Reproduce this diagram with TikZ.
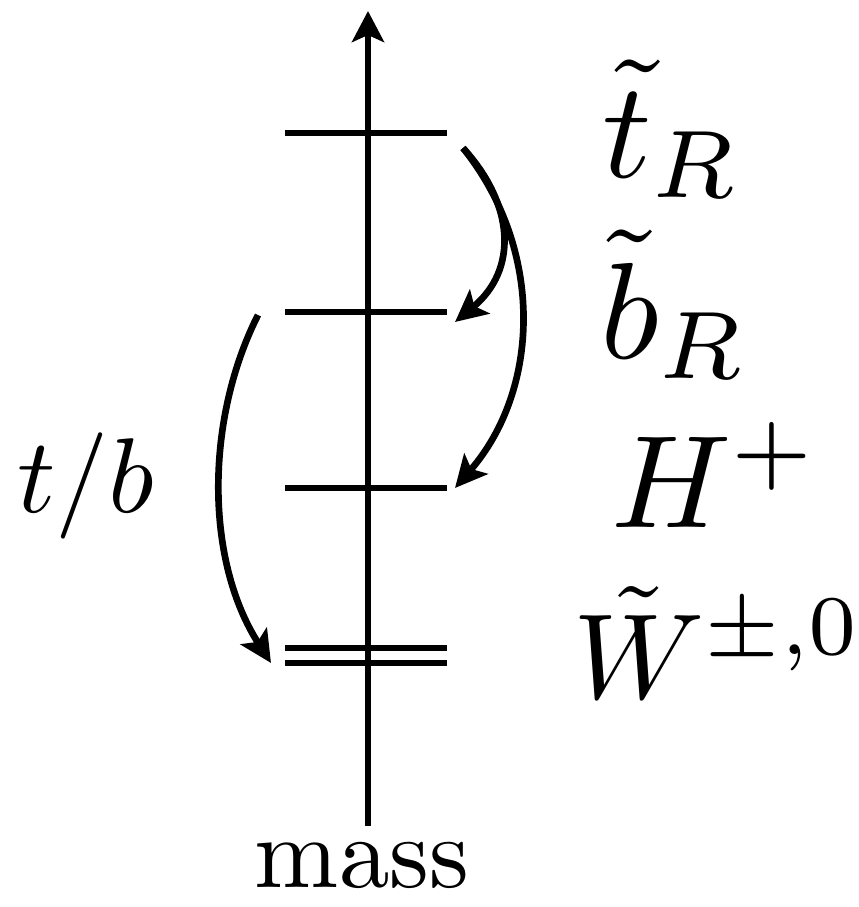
\documentclass[tikz,border=0pt]{standalone}
\usetikzlibrary{arrows.meta}
\begin{document}
\begin{tikzpicture}[x=0.02cm,y=-0.02cm,
  line width=3.6pt,
  level/.style={line width=3.8pt},
  arr/.style={line width=3.8pt,-{Stealth[length=0.64cm,width=0.62cm,inset=0.14cm]}},
  lbl/.style={inner sep=0pt,outer sep=0pt,anchor=base west,font=\normalsize}]
\useasboundingbox (0,0) rectangle (859,907);
% axis
\coordinate (axb) at (368,826);
\coordinate (axt) at (368,11);
\draw[line width=3.6pt,-{Stealth[length=0.62cm,width=0.64cm,inset=0.14cm]}] (axb) -- (axt);
% levels
\coordinate (tl) at (285,133); \coordinate (tr) at (447,133);
\coordinate (bl) at (285,312); \coordinate (br) at (447,312);
\coordinate (hl) at (285,488); \coordinate (hr) at (447,488);
\coordinate (w1l) at (285,648); \coordinate (w1r) at (447,648);
\coordinate (w2l) at (285,663); \coordinate (w2r) at (447,663);
\draw[level] (tl) -- (tr);
\draw[level] (bl) -- (br);
\draw[level] (hl) -- (hr);
\draw[level] (w1l) -- (w1r);
\draw[level] (w2l) -- (w2r);
% arrows
\coordinate (s) at (463,148);
\coordinate (e1) at (455,322);
\coordinate (e2) at (455,488);
\coordinate (ls) at (258,315);
\coordinate (le) at (271,663);
\draw[arr] (s) .. controls (515,205) and (518,270) .. (e1);
\draw[arr] (s) .. controls (545,250) and (540,390) .. (e2);
\draw[arr] (ls) .. controls (205,420) and (205,560) .. (le);
% labels
\node[lbl,scale=7.8] (lt) at (602,177) {$\tilde t_R$};
\node[lbl,scale=7.8] (lb) at (600,358) {$\tilde b_R$};
\node[lbl,scale=7.5] (lh) at (611,527) {$H^+$};
\node[lbl,scale=6.9] (lw) at (573,698) {$\tilde W^{\pm,0}$};
\node[lbl,scale=6.05] (ltb) at (17,512) {$t/b$};
\node[lbl,scale=5.75,anchor=base] (lm) at (362,887) {mass};
\end{tikzpicture}
\end{document}
